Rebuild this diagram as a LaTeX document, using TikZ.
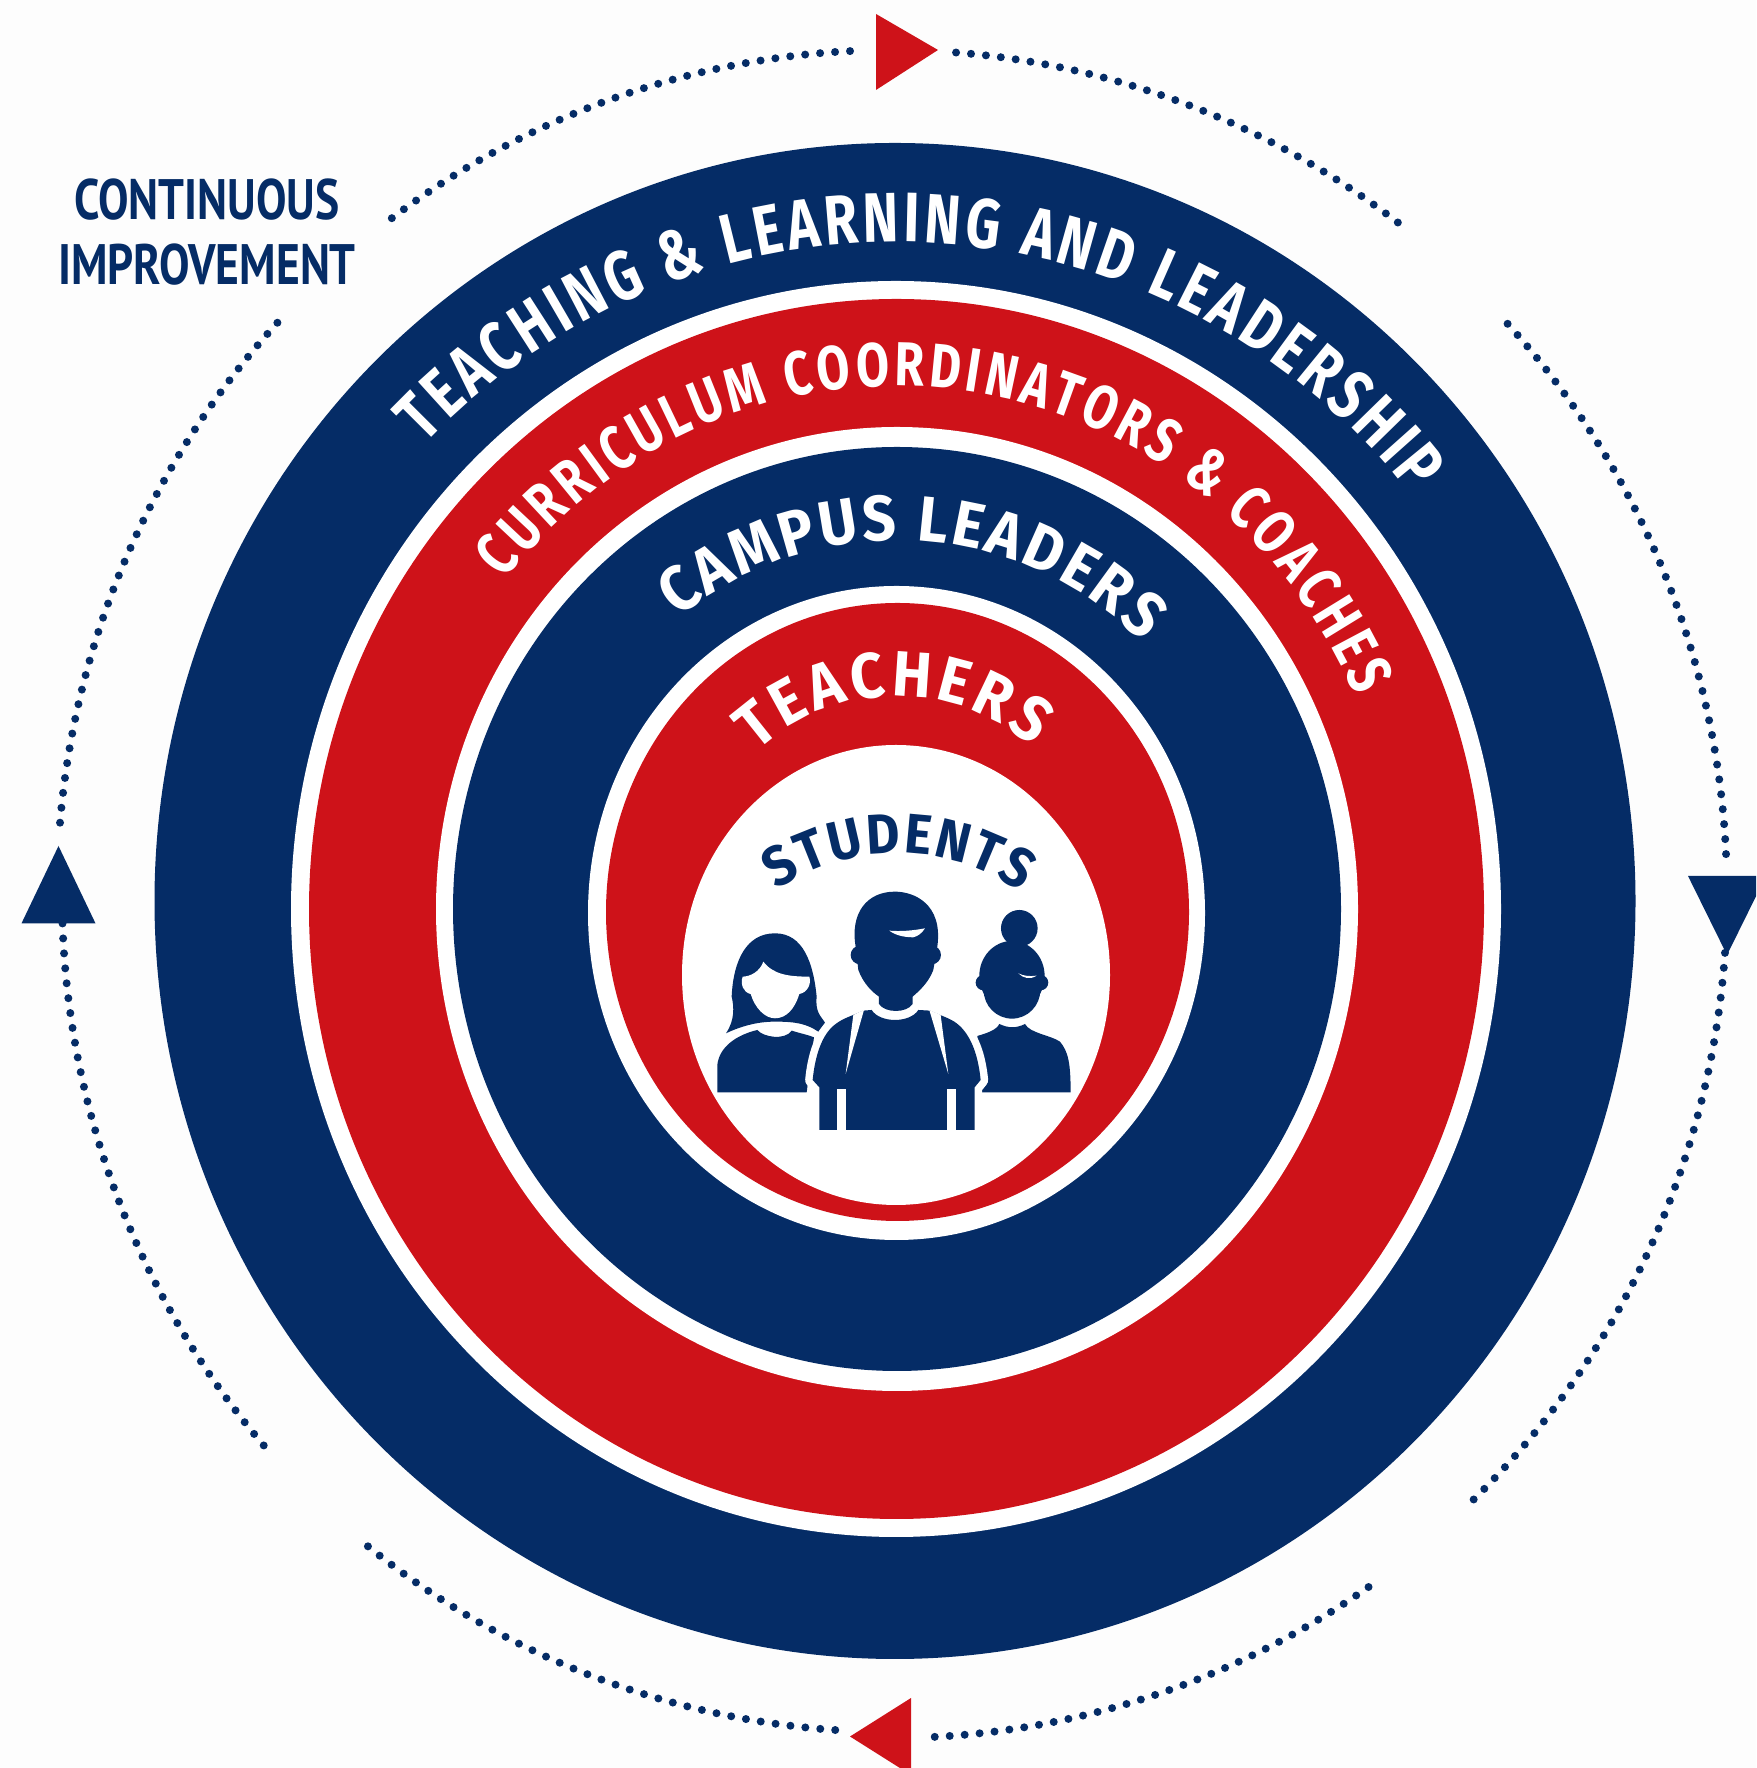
\documentclass[tikz,border=0pt]{standalone}
\usepackage{fontspec}
\usepackage{xcolor}
\usetikzlibrary{decorations.text}

\newfontfamily\ringfont[FakeStretch=0.77]{Fira Sans}
\newfontfamily\shortfont[FakeStretch=0.92]{Fira Sans}
\newfontfamily\smallfont[FakeStretch=0.80]{PT Sans}
\definecolor{ringnavy}{HTML}{052C66}
\definecolor{ringred}{HTML}{CE1219}
\definecolor{paper}{HTML}{FDFDFD}

\tikzset{
    ringtext/.style={decorate, decoration={text along path, text align={fit to path}, text color=#1}},
    dotarc/.style={ringnavy, line width=8pt, line cap=round, dash pattern=on 0pt off 15pt},
    person/.style={fill=ringnavy, draw=none}
}

\begin{document}
\begin{tikzpicture}[x=1pt, y=1pt]
    \useasboundingbox (0, 0) rectangle (1756, 1768);
    \clip (0, 0) rectangle (1756, 1768);
    \fill[paper] (0, 0) rectangle (1756, 1768);

    % rings, outside to inside
    \fill[ringnavy] (895, 867) ellipse [x radius=740.5, y radius=758];
    \fill[white] (896, 859) ellipse [x radius=605, y radius=628];
    \fill[ringred] (896.5, 859) ellipse [x radius=587.5, y radius=610];
    \fill[white] (897, 859) ellipse [x radius=461, y radius=482];
    \fill[ringnavy] (897, 859) ellipse [x radius=444, y radius=462];
    \fill[white] (896.5, 855) ellipse [x radius=308.5, y radius=327];
    \fill[ringred] (897.5, 856) ellipse [x radius=291.5, y radius=309];
    \fill[white] (896, 793) ellipse [x radius=214, y radius=230];

    % ring labels
    \coordinate (teachingC) at (896, 863);
    \coordinate (coachesC) at (896, 859);
    \coordinate (campusC) at (897, 859);
    \coordinate (teachersC) at (897, 856);
    \coordinate (studentsC) at (897, 700);

    \path[ringtext=white, decoration={text={|\ringfont\bfseries\fontsize{70}{70}\selectfont|TEACHING {\&} LEARNING AND LEADERSHIP}}]
        ([shift={(136:655 and 663)}]teachingC) arc [start angle=136, end angle=38.2, x radius=655, y radius=663];
    \path[ringtext=white, decoration={text={|\ringfont\bfseries\fontsize{62}{62}\selectfont|CURRICULUM COORDINATORS {\&} COACHES}}]
        ([shift={(141:503 and 523)}]coachesC) arc [start angle=141, end angle=24, x radius=503, y radius=523];
    \path[ringtext=white, decoration={text={|\shortfont\bfseries\fontsize{64}{64}\selectfont|CAMPUS LEADERS}}]
        ([shift={(128:355 and 369)}]campusC) arc [start angle=128, end angle=46.4, x radius=355, y radius=369];
    \path[ringtext=white, decoration={text={|\shortfont\bfseries\fontsize{64}{64}\selectfont|TEACHERS}}]
        ([shift={(132:210 and 216)}]teachersC) arc [start angle=132, end angle=50, x radius=210, y radius=216];
    \path[ringtext=ringnavy, decoration={text={|\shortfont\bfseries\fontsize{56}{56}\selectfont|STUDENTS}}]
        ([shift={(124:215 and 215)}]studentsC) arc [start angle=124, end angle=55, x radius=215, y radius=215];

    \node[ringnavy, align=center, font=\smallfont\bfseries\fontsize{57}{65}\selectfont] (improve) at (207, 1536)
        {CONTINUOUS\\IMPROVEMENT};

    % dotted circle around the rings
    \coordinate (loopC) at (892, 874);
    \draw[dotarc] ([shift={(126.8:835 and 844)}]loopC) arc [start angle=126.8, end angle=92.4, x radius=835, y radius=844];
    \draw[dotarc] ([shift={(85.6:835 and 844)}]loopC) arc [start angle=85.6, end angle=52.4, x radius=835, y radius=844];
    \draw[dotarc] ([shift={(42.5:835 and 844)}]loopC) arc [start angle=42.5, end angle=2.5, x radius=835, y radius=844];
    \draw[dotarc] ([shift={(-4:835 and 844)}]loopC) arc [start angle=-4, end angle=-46.4, x radius=835, y radius=844];
    \draw[dotarc] ([shift={(-55.2:835 and 844)}]loopC) arc [start angle=-55.2, end angle=-87.8, x radius=835, y radius=844];
    \draw[dotarc] ([shift={(-93.9:835 and 838)}]loopC) arc [start angle=-93.9, end angle=-129.3, x radius=835, y radius=838];
    \draw[dotarc] ([shift={(182:830 and 844)}]loopC) arc [start angle=182, end angle=221.2, x radius=830, y radius=844];
    \draw[dotarc] ([shift={(137.4:835 and 844)}]loopC) arc [start angle=137.4, end angle=175.2, x radius=835, y radius=844];

    % arrow heads
    \fill[ringred] (876, 1754) -- (938, 1718) -- (876, 1678) -- cycle;
    \fill[ringred] (911, 70) -- (850, 31.5) -- (911, -7) -- cycle;
    \fill[ringnavy] (58.5, 922) -- (21.5, 844.6) -- (95.5, 844.6) -- cycle;
    \fill[ringnavy] (1688, 892) -- (1766, 892) -- (1727, 813) -- cycle;

    % the three students, drawn in the pixel grid of the crop
    \begin{scope}[shift={(680, 968)}, x=0.3333pt, y=-0.3333pt]
        % girl
        \fill[person] (112, 877) -- (112, 795) .. controls (118, 740) and (170, 705) .. (232, 690)
            .. controls (250, 712) and (315, 722) .. (335, 692) .. controls (360, 700) and (385, 705) .. (402, 712)
            -- (380, 877) -- cycle;
        \fill[white] (140, 690) .. controls (200, 665) and (360, 665) .. (425, 690) -- (420, 680) -- (150, 680) -- cycle;
        \fill[person] (138, 700) .. controls (165, 660) and (162, 620) .. (155, 590) .. controls (160, 480) and (200, 400) .. (285, 400)
            .. controls (370, 400) and (400, 490) .. (410, 590) .. controls (405, 640) and (425, 650) .. (435, 668)
            -- (415, 695) .. controls (380, 672) and (350, 665) .. (285, 665) .. controls (230, 665) and (180, 680) .. (138, 700) -- cycle;
        \fill[white] (250, 485) .. controls (240, 515) and (210, 530) .. (188, 530) .. controls (180, 552) and (190, 578) .. (212, 582)
            .. controls (225, 625) and (255, 655) .. (285, 655) .. controls (320, 655) and (345, 625) .. (358, 582)
            .. controls (382, 578) and (395, 552) .. (388, 530) .. controls (330, 530) and (280, 525) .. (250, 485) -- cycle;
        % woman with the bun
        \fill[person] (905, 877) -- (892, 708) .. controls (920, 700) and (950, 690) .. (958, 672) .. controls (985, 685) and (1010, 685) .. (1035, 672)
            .. controls (1050, 700) and (1110, 705) .. (1140, 725) .. controls (1165, 755) and (1172, 790) .. (1172, 877) -- cycle;
        \fill[person] (1018, 385) circle (55);
        \fill[person] (996, 528) ellipse [x radius=98, y radius=105];
        \fill[person] (996, 570) ellipse [x radius=85, y radius=86];
        \fill[person] (910, 548) circle (23);
        \fill[person] (1082, 548) circle (23);
        \fill[white] (1015, 520) .. controls (1030, 528) and (1050, 530) .. (1070, 527) .. controls (1050, 540) and (1030, 535) .. (1015, 520) -- cycle;
        % boy in front, with a white edge round him
        \path[person, preaction={draw=white, line width=15pt, line join=round}]
            (418, 990) -- (418, 862) -- (398, 840) .. controls (405, 770) and (425, 700) .. (470, 670)
            .. controls (490, 655) and (510, 650) .. (550, 632) -- (575, 630)
            .. controls (600, 670) and (690, 670) .. (715, 630) -- (750, 632)
            .. controls (790, 650) and (810, 655) .. (830, 670) .. controls (875, 705) and (895, 770) .. (902, 840)
            -- (884, 862) -- (884, 990) -- cycle;
        \fill[white] (520, 645) -- (552, 630) -- (497, 822) -- cycle;
        \fill[white] (748, 630) -- (782, 645) -- (805, 822) -- cycle;
        \fill[white] (470, 868) rectangle (497, 992);
        \fill[white] (802, 868) rectangle (828, 992);
        \fill[person] (527, 440) .. controls (510, 340) and (560, 275) .. (645, 275) .. controls (700, 275) and (790, 310) .. (772, 440)
            -- (760, 510) .. controls (745, 550) and (715, 575) .. (698, 590) -- (698, 612)
            .. controls (680, 640) and (615, 640) .. (597, 612) -- (597, 590) .. controls (575, 575) and (550, 550) .. (535, 510) -- cycle;
        \fill[person] (540, 465) circle (28);
        \fill[person] (755, 465) circle (28);
        \fill[white] (628, 392) .. controls (660, 395) and (700, 392) .. (735, 385) .. controls (725, 400) and (715, 408) .. (700, 412)
            .. controls (670, 412) and (645, 405) .. (628, 392) -- cycle;
    \end{scope}
\end{tikzpicture}
\end{document}
